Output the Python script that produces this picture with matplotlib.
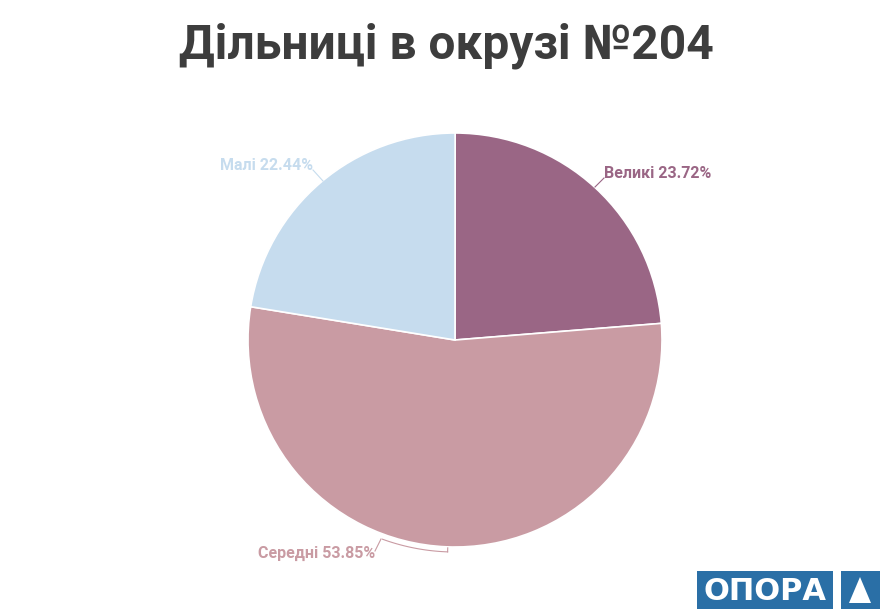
import matplotlib.pyplot as plt
from matplotlib.patches import Rectangle, Polygon, Wedge
import numpy as np


# =====================================================================================================================


TITLE = "Дільниці в окрузі №204"
CATEGORIES = ["Великі", "Середні", "Малі"]
SHARES = [23.72, 53.85, 22.44]
COLORS = ["#9a6685", "#c99ba3", "#c6dcee"]

W, H = 882, 612
CX, CY, R = 455, 340, 207


# =====================================================================================================================


plt.rcParams['font.family'] = ['Roboto', 'DejaVu Sans']

fig = plt.figure(figsize=(W / 100, H / 100), dpi=100)
ax = fig.add_axes([0, 0, 1, 1])
ax.set_xlim(0, W)
ax.set_ylim(H, 0)
ax.set_aspect('equal')
ax.axis('off')

# pie slices, clockwise from 12 o'clock (y axis is inverted, so angles are negated)
start = 90.0
for share, color in zip(SHARES, COLORS):
    sweep = share / 100 * 360
    ax.add_patch(Wedge((CX, CY), R, -start, -(start - sweep),
                       facecolor=color, edgecolor='white', linewidth=1.2))
    start -= sweep

# labels
lab = dict(fontsize=11.5, fontweight='bold')
ax.text(604, 173, "%s %.2f%%" % (CATEGORIES[0], SHARES[0]), color=COLORS[0], ha='left', va='center', **lab)
ax.plot([595, 604], [187, 178], color=COLORS[0], lw=0.8)

ax.text(313, 166, "%s %.2f%%" % (CATEGORIES[2], SHARES[2]), color=COLORS[2], ha='right', va='center', **lab)
ax.plot([313, 323], [170, 181], color=COLORS[2], lw=0.8)

ax.text(258, 553, "%s %.2f%%" % (CATEGORIES[1], SHARES[1]), color=COLORS[1], ha='left', va='center', **lab)
ax.plot([375, 381], [551, 539], color=COLORS[1], lw=0.8)
r2 = 212
th = np.radians(np.linspace(92, 110, 40))
ax.plot(CX + r2 * np.cos(th), CY + r2 * np.sin(th), color=COLORS[1], lw=0.8)
t = np.radians(92)
ax.plot([CX + (R + 1) * np.cos(t), CX + r2 * np.cos(t)],
        [CY + (R + 1) * np.sin(t), CY + r2 * np.sin(t)], color=COLORS[1], lw=0.8)

# title
ax.text(W / 2 + 5, 46, TITLE, ha='center', va='center', fontsize=34.5, fontweight='bold', color='#3d3d3d')

# logo
blue = '#2a6fa6'
ax.add_patch(Rectangle((697, 571), 136, 38, facecolor=blue, edgecolor='none'))
ax.add_patch(Rectangle((841, 571), 39, 38, facecolor=blue, edgecolor='none'))
ax.text(765, 591, "ОПОРА", ha='center', va='center', fontsize=22, fontweight='bold',
        family='DejaVu Sans', color='white')
ax.add_patch(Polygon([[860, 577], [849, 603], [871, 603]], closed=True, facecolor='white', edgecolor='none'))

plt.savefig("out.png", dpi=100)
